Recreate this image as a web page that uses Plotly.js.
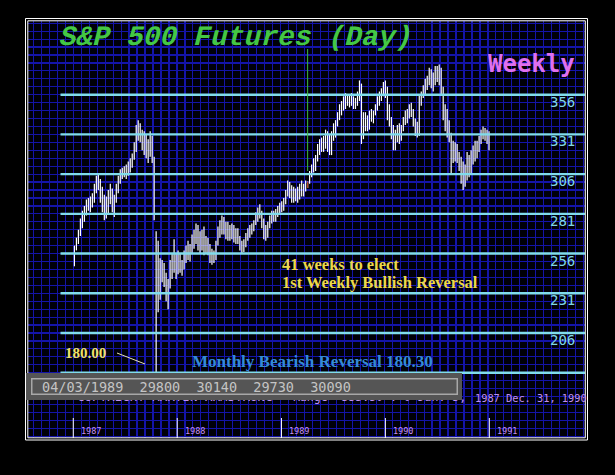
<!DOCTYPE html>
<html>
<head>
<meta charset="utf-8">
<script src="https://cdn.plot.ly/plotly-3.0.1.min.js"></script>
<style>
  html, body { margin: 0; padding: 0; background: #000; }
  #chart { width: 615px; height: 475px; }
</style>
</head>
<body>
<div id="chart"></div>
<script>
// ---- Weekly S&P 500 futures OHLC, Jan 5 1987 .. Dec 31 1990 ----
const firstWeek = [1987, 0, 5];

const open1987  = [249,259,264,269,275,279,284,287,285,289,291,298,300,302,292,285,282,289,293,295,286,290,297,302,305,307,306,309,310,313,317,322,333,331,329,325,322,320,318,327,314,268,244,250,243,246,240,232,236,248,244,253];
const high1987  = [261,266,271,278,283,286,290,291,292,294,300,305,306,303,298,293,292,296,300,297,293,300,305,309,310,311,312,314,316,319,326,337,340,338,334,333,331,328,333,330,317,270,264,253,252,250,244,240,252,256,265,256];
const low1987   = [248,258,262,267,272,276,280,283,282,285,288,294,296,288,282,277,278,281,287,282,279,288,294,300,303,304,303,305,307,310,315,320,327,326,321,318,316,313,317,313,277,181,219,227,238,235,226,221,234,240,244,240];
const close1987 = [259,264,269,275,279,284,287,285,289,291,298,300,302,292,285,282,289,293,295,286,290,297,302,305,307,306,309,310,313,317,322,333,331,329,325,322,320,318,327,314,283,244,250,243,246,240,232,236,248,244,253,248];

const open1988  = [248,255,247,249,255,258,256,259,265,268,270,262,266,262,259,262,258,255,252,256,261,271,273,276,271,273,268,271,272,266,269,264,260,258,262,266,270,270,273,275,280,283,280,275,268,267,272,278,280,278,281,284];
const high1988  = [258,256,252,258,261,264,262,268,271,275,274,270,271,273,267,266,262,259,258,264,273,277,280,279,276,276,274,275,274,272,272,267,264,265,269,272,274,275,277,282,285,287,283,278,274,276,280,283,283,284,286,288];
const low1988   = [243,244,242,246,250,252,251,256,259,262,258,256,258,255,256,255,250,249,250,252,261,266,268,268,265,264,264,265,263,262,262,258,256,257,260,264,266,268,270,274,276,278,272,265,264,266,272,275,276,276,279,281];
const close1988 = [255,247,249,255,258,256,259,265,268,270,262,266,262,259,262,258,255,252,256,261,271,273,276,271,273,268,271,272,266,269,264,260,258,262,266,270,270,273,275,280,283,280,275,268,267,272,278,280,278,281,284,285];

const open1989  = [285,287,289,294,297,293,291,293,291,295,297,294,298,298.0,301,306,310,309,315,322,324,326,327,330,326,322,330,335,337,342,347,350,352,354,352,353,355,350,351,355,360,333,341,338,336,342,344,345,348,352,355,357];
const high1989  = [289,291,296,302,301,299,298,297,298,300,302,300,302,301.4,308,312,316,318,325,328,329,330,334,333,331,333,338,340,345,350,352,355,357,356,356,357,355,354,358,365,363,345,345,343,346,347,346,350,355,358,360,364];
const low1989   = [282,283,287,292,291,288,288,289,288,290,292,292,295,297.3,300,304,307,308,314,318,320,320,322,320,318,318,327,329,336,340,343,346,347,349,348,349,347,347,349,352,325,328,333,333,334,339,338,343,346,349,352,355];
const close1989 = [287,289,294,297,293,291,293,291,295,297,294,298,298,300.9,306,310,309,315,322,324,326,327,330,326,322,330,335,337,342,347,350,352,354,352,353,355,350,351,355,360,333,341,338,336,342,344,345,348,352,355,357,360];

const open1990  = [360,358,344,339,332,328,330,333,331,335,340,343,344,347,345,338,334,333,352,356,360,362,365,368,363,365,370,368,371,360,344,338,334,330,316,322,318,316,312,305,302,308,311,313,316,320,324,322,327,331,334,330,330];
const high1990  = [365,361,350,342,337,334,337,338,337,342,346,347,350,351,347,341,339,356,358,362,366,368,373,372,370,374,374,375,373,361,350,347,340,332,327,326,325,320,317,314,312,320,318,321,324,327,327,330,334,336,335,334,333];
const low1990   = [354,340,336,328,321,321,326,325,327,333,337,338,341,342,336,330,329,330,349,354,356,359,362,360,358,362,364,362,356,340,333,329,326,306,313,314,313,308,300,296,298,302,304,306,312,314,316,320,325,328,327,325,321];
const close1990 = [358,344,339,332,328,330,333,331,335,340,343,344,347,345,338,334,333,352,356,360,362,365,368,363,365,370,368,371,360,344,338,334,330,316,322,318,316,312,305,302,308,311,313,316,320,324,322,327,331,334,330,330,329];

const markedWeek = '1989-04-03';
const infoValues = ['04/03/1989', '29800', '30140', '29730', '30090'];

const levels = [356, 331, 306, 281, 256, 231, 206, 181];
const levelLabels = ['356', '331', '306', '281', '256', '231', '206'];
const yearTicks = ['1987', '1988', '1989', '1990', '1991'];

const titleText = 'S&P 500 Futures (Day)';
const periodText = 'Weekly';
const copyrightText = 'COPYRIGHT MARTIN ARMSTRONG';
const rangeText = 'Range\u00a0\u00a0333.50 : 0 Jan. 5,';
const rangeDates = '1987 Dec. 31, 1990';
const note1a = '41 weeks to elect';
const note1b = '1st Weekly Bullish Reversal';
const note2 = 'Monthly Bearish Reversal 180.30';
const lowLabel = '180.00';

// ---- assemble ----
const openVals = [].concat(open1987, open1988, open1989, open1990);
const highVals = [].concat(high1987, high1988, high1989, high1990);
const lowVals = [].concat(low1987, low1988, low1989, low1990);
const closeVals = [].concat(close1987, close1988, close1989, close1990);
const weeks = openVals.map((_, i) => {
  const d = new Date(Date.UTC(firstWeek[0], firstWeek[1], firstWeek[2] + 7 * i));
  return d.toISOString().slice(0, 10);
});
const mk = weeks.indexOf(markedWeek);

const barLine = {color: '#ffffff', width: 1.2};
const markLine = {color: '#b03a1c', width: 1.2};
const traces = [
  {
    type: 'ohlc', x: weeks, open: openVals, high: highVals, low: lowVals, close: closeVals,
    increasing: {line: barLine}, decreasing: {line: barLine},
    tickwidth: 0.45, hoverinfo: 'skip', showlegend: false
  },
  {
    type: 'ohlc', x: [weeks[mk]], open: [openVals[mk]], high: [highVals[mk]], low: [lowVals[mk]], close: [closeVals[mk]],
    increasing: {line: markLine}, decreasing: {line: markLine},
    tickwidth: 0.45, hoverinfo: 'skip', showlegend: false
  }
];

// pixel helpers for layout decoration (plot area x 28..585, y 21..438)
const PL = 28, PR = 585, PT = 21, PB = 438;
const px = x => (x - PL) / (PR - PL);
const py = y => (PB - y) / (PB - PT);

const shapes = [];
shapes.push({type: 'rect', xref: 'paper', yref: 'paper', x0: px(25.5), x1: px(587.5), y0: py(440), y1: py(18.5), line: {color: '#ffffff', width: 1}, layer: 'above'});
shapes.push({type: 'rect', xref: 'paper', yref: 'paper', x0: px(27.8), x1: px(585.3), y0: py(437.8), y1: py(20.8), line: {color: '#ffffff', width: 1}, layer: 'above'});
levels.forEach(v => shapes.push({type: 'line', xref: 'paper', yref: 'y', x0: px(60.5), x1: 1, y0: v, y1: v, line: {color: '#80dcec', width: 2.4}, layer: 'above'}));
yearTicks.forEach(yr => shapes.push({type: 'line', xref: 'x', yref: 'paper', x0: yr + '-01-01', x1: yr + '-01-01', y0: 0, y1: py(418), line: {color: '#ffffff', width: 1}, layer: 'above'}));
shapes.push({type: 'line', xref: 'x', yref: 'paper', x0: markedWeek, x1: markedWeek, y0: py(171), y1: py(49), line: {color: '#3cbc3c', width: 1}, layer: 'above'});
shapes.push({type: 'line', xref: 'paper', yref: 'paper', x0: px(117), y0: py(353), x1: px(145), y1: py(364), line: {color: '#e8e2b0', width: 1}, layer: 'above'});

const annotations = [];
annotations.push({xref: 'paper', yref: 'paper', x: px(58), y: py(38), xanchor: 'left', yanchor: 'middle', showarrow: false,
  text: titleText.replace('&', '&amp;'), font: {family: 'Liberation Mono', size: 28, color: '#44c844', weight: 'bold'}});
annotations.push({xref: 'paper', yref: 'paper', x: px(486), y: py(63.5), xanchor: 'left', yanchor: 'middle', showarrow: false,
  text: periodText, font: {family: 'DejaVu Sans Mono', size: 24, color: '#e070ee', weight: 'bold'}});
levelLabels.forEach((t, i) => annotations.push({xref: 'paper', yref: 'y', x: px(577), y: levels[i], yshift: -7, xanchor: 'right', yanchor: 'middle', showarrow: false,
  text: t, font: {family: 'DejaVu Sans Mono', size: 14, color: '#80d8e8'}}));
yearTicks.forEach(yr => annotations.push({xref: 'x', yref: 'paper', x: yr + '-01-01', xshift: 6, y: py(431), xanchor: 'left', yanchor: 'middle', showarrow: false,
  text: yr, font: {family: 'DejaVu Sans Mono', size: 8.5, color: '#c890f0'}}));
annotations.push({xref: 'paper', yref: 'paper', x: px(279.5), y: py(264), xanchor: 'left', yanchor: 'middle', showarrow: false,
  text: note1a, font: {family: 'Liberation Serif', size: 16.5, color: '#ecd84c', weight: 'bold'}});
annotations.push({xref: 'paper', yref: 'paper', x: px(279.5), y: py(282.5), xanchor: 'left', yanchor: 'middle', showarrow: false,
  text: note1b, font: {family: 'Liberation Serif', size: 16.5, color: '#ecd84c', weight: 'bold'}});
annotations.push({xref: 'paper', yref: 'paper', x: px(63), y: py(353), xanchor: 'left', yanchor: 'middle', showarrow: false,
  text: lowLabel, font: {family: 'Liberation Serif', size: 15, color: '#f0e068', weight: 'bold'}});
annotations.push({xref: 'paper', yref: 'paper', x: px(190), y: py(361.5), xanchor: 'left', yanchor: 'middle', showarrow: false,
  text: note2, font: {family: 'Liberation Serif', size: 17, color: '#348ad8', weight: 'bold'}});
annotations.push({xref: 'paper', yref: 'paper', x: px(75), y: py(396.5), xanchor: 'left', yanchor: 'middle', showarrow: false,
  text: copyrightText, font: {family: 'DejaVu Sans Mono', size: 12.5, color: '#c090f0'}});
annotations.push({xref: 'paper', yref: 'paper', x: px(291), y: py(396.5), xanchor: 'left', yanchor: 'middle', showarrow: false,
  text: rangeText, font: {family: 'DejaVu Sans Mono', size: 11.5, color: '#c090f0'}});
annotations.push({xref: 'paper', yref: 'paper', x: px(473), y: py(398), xanchor: 'left', yanchor: 'middle', showarrow: false,
  text: rangeDates, font: {family: 'DejaVu Sans Mono', size: 10.3, color: '#c090f0'}});
annotations.push({xref: 'paper', yref: 'paper', x: px(25.5), y: py(386), xanchor: 'left', yanchor: 'middle', showarrow: false,
  text: 'x', width: 436, height: 27, borderpad: 0, borderwidth: 0, bgcolor: '#555555', font: {size: 10, color: 'rgba(0,0,0,0)'}});
annotations.push({xref: 'paper', yref: 'paper', x: px(31), y: py(386), xanchor: 'left', yanchor: 'middle', showarrow: false,
  text: 'x', width: 424, height: 14, borderpad: 0, borderwidth: 1.5, bordercolor: '#a8a8a8', bgcolor: 'rgba(0,0,0,0)', font: {size: 10, color: 'rgba(0,0,0,0)'}});
annotations.push({xref: 'paper', yref: 'paper', x: px(40), y: py(386.5), xanchor: 'left', yanchor: 'middle', showarrow: false,
  text: infoValues.join('\u00a0\u00a0'), font: {family: 'DejaVu Sans Mono', size: 13.5, color: '#c4c4c4'}});

const layout = {
  width: 615, height: 475,
  margin: {l: PL, r: 615 - PR, t: PT, b: 475 - PB, pad: 0},
  paper_bgcolor: '#000000', plot_bgcolor: '#000008',
  showlegend: false, hovermode: false,
  xaxis: {
    type: 'date', range: ['1986-07-26', '1991-12-03'],
    rangeslider: {visible: false},
    showticklabels: false, ticks: '', zeroline: false, showline: false,
    showgrid: true, gridcolor: '#1414a8', gridwidth: 1.2,
    tick0: '1987-01-01', dtick: 28 * 86400000
  },
  yaxis: {
    range: [139.9, 402.4],
    showticklabels: false, ticks: '', zeroline: false, showline: false,
    showgrid: true, gridcolor: '#1414a8', gridwidth: 1.2,
    tick0: 181, dtick: 5
  },
  shapes: shapes,
  annotations: annotations
};

Plotly.newPlot('chart', traces, layout, {staticPlot: true, displayModeBar: false}).then(gd => {
  // slant the title like the original italic screen font
  const t = gd.querySelector('.annotation[data-index="0"] text');
  if (t) {
    t.style.transformBox = 'fill-box';
    t.style.transformOrigin = '50% 50%';
    t.style.transform = 'skewX(-14deg)';
  }
});
</script>
</body>
</html>
